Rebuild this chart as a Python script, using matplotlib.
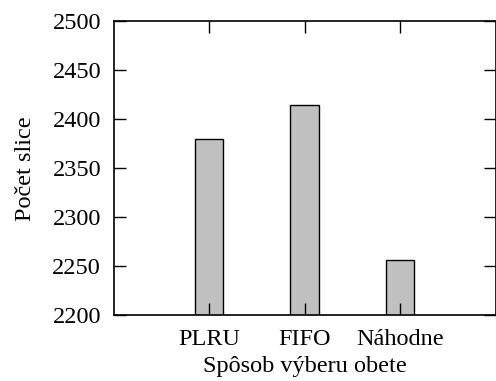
import matplotlib
matplotlib.use("Agg")
import matplotlib.pyplot as plt

# victim selection policies and resulting slice counts
policies = ["PLRU", "FIFO", "Náhodne"]
slices = [2380, 2414, 2257]
positions = [1, 2, 3]
yticks = [2200, 2250, 2300, 2350, 2400, 2450, 2500]

plt.rcParams["font.family"] = "Liberation Serif"
plt.rcParams["font.size"] = 17.5

fig = plt.figure(figsize=(4.96, 3.81), dpi=100)
ax = fig.add_axes([0.229, 0.172, 0.770, 0.773])

ax.bar(positions, slices, width=0.3, bottom=0, color="#c0c0c0",
       edgecolor="black", linewidth=1.0)

ax.set_xlim(0, 4)
ax.set_ylim(2200, 2500)
ax.set_xticks(positions)
ax.set_xticklabels(policies)
ax.set_yticks(yticks)
ax.tick_params(direction="in", length=8.5, width=1.0, top=True, right=True)
ax.tick_params(axis="x", pad=10)
ax.tick_params(axis="y", pad=9)
for s in ax.spines.values():
    s.set_linewidth(1.2)

ax.set_xlabel("Spôsob výberu obete", labelpad=4)
ax.set_ylabel("Počet slice", labelpad=12)

fig.savefig("out.png", dpi=100)
